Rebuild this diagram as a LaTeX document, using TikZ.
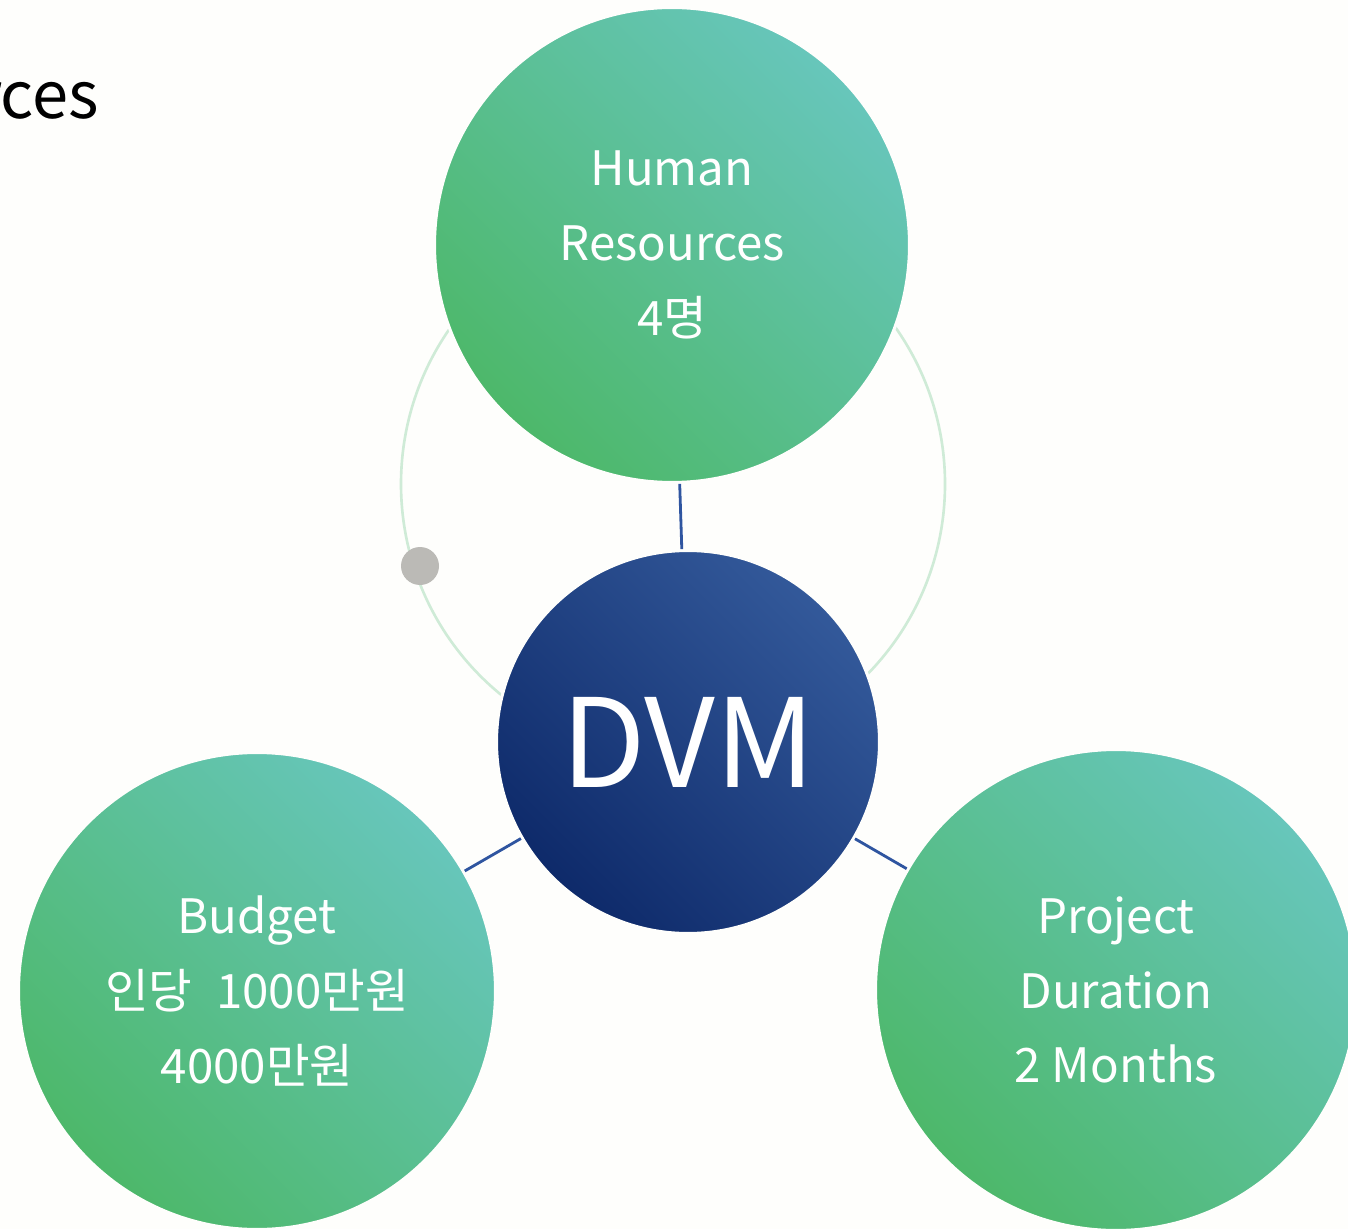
\documentclass[tikz,border=0pt]{standalone}
\usepackage{fontspec}
\setmainfont{Noto Sans CJK KR}
\usetikzlibrary{shapes.geometric}

\definecolor{bgpage}{HTML}{FEFEFC}
\definecolor{greenlow}{HTML}{4DB86A}
\definecolor{greenhigh}{HTML}{67C6BB}
\definecolor{bluelow}{HTML}{0E2A6A}
\definecolor{bluehigh}{HTML}{33599A}
\definecolor{linkblue}{HTML}{2F55A0}
\definecolor{ringgreen}{HTML}{CFEBD7}
\definecolor{dotgrey}{HTML}{BBBAB6}

\tikzset{
  bubble/.style={circle,draw=bgpage,line width=1.7pt,inner sep=0pt,
    text=white,align=center,
    font=\fontsize{27pt}{42.5pt}\selectfont,
    top color=greenhigh,bottom color=greenlow,shading angle=-45},
  core/.style={circle,draw=bgpage,line width=1.7pt,inner sep=0pt,
    minimum size=7.66cm,text=white,
    font=\fontsize{70pt}{80pt}\selectfont,
    top color=bluehigh,bottom color=bluelow,shading angle=-45},
  link/.style={draw=linkblue,line width=1.6pt}
}

\begin{document}
\begin{tikzpicture}[x=0.02cm,y=-0.02cm]
        \useasboundingbox (0,0) rectangle (1348,1229) ;
        \clip (0,0) rectangle (1348,1229) ;
        \fill[bgpage] (0,0) rectangle (1348,1229) ;
        % cut title at the left edge
        \node[anchor=base east,inner sep=0pt,
          font=\fontsize{37pt}{45pt}\selectfont] (title) at (99,119) {rces} ;
        % faint ring behind the bubbles
        \draw[ringgreen,line width=1.5pt] (673,484) circle (272) ;
        \fill[dotgrey] (420,566) circle (19) ;
        \node[core] (dvm) at (688,742) {DVM} ;
        \node[bubble,minimum size=9.5cm] (hr) at (672,245)
          {Human\\Resources\\4명} ;
        \node[bubble,minimum size=9.54cm] (budget) at (257,991)
          {Budget\\인당\hspace{0.5em}1000만원\\4000만원} ;
        \node[bubble,minimum size=9.62cm] (duration) at (1116,990)
          {Project\\Duration\\2 Months} ;
        \draw[link] (hr) -- (dvm) ;
        \draw[link] (budget) -- (dvm) ;
        \draw[link] (duration) -- (dvm) ;
      \end{tikzpicture}
\end{document}
